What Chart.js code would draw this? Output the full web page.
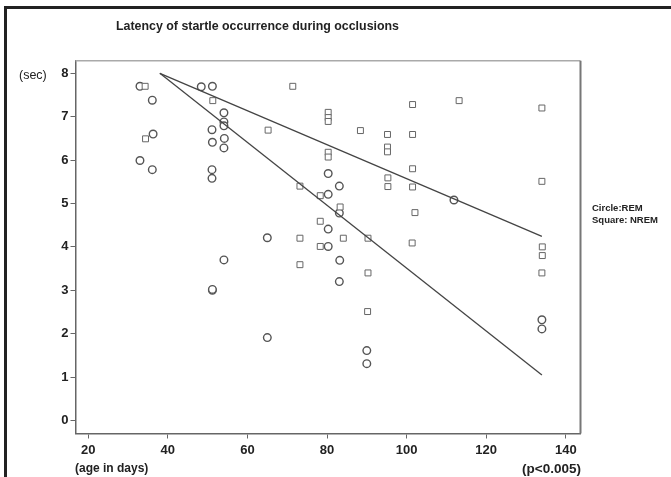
<!DOCTYPE html>
<html>
<head>
<meta charset="utf-8">
<script src="https://cdn.jsdelivr.net/npm/chart.js@4/dist/chart.umd.min.js"></script>
<style>
  body { margin: 0; background: #fff; }
  #wrap { width: 671px; height: 477px; }
</style>
</head>
<body>
<div id="wrap"><canvas id="grafico" width="671" height="477"></canvas></div>
<script>
// REM (circles): age in days, latency in sec
const remEdad = [33, 36.1, 48.4, 51.2, 54.1, 54.1, 54.1, 51.1, 54.2, 51.2, 54.1, 36.3, 33, 36.1, 51.1, 51.1,
  65, 54.1, 51.2, 51.2, 65, 80.3, 83.1, 111.9, 80.3, 83.1, 80.3, 80.3, 83.2, 83.1, 90, 90, 134, 134];
const remLatencia = [7.7, 7.38, 7.69, 7.7, 7.09, 6.88, 6.79, 6.7, 6.5, 6.41, 6.28, 6.6, 5.99, 5.78, 5.78, 5.58,
  4.21, 3.7, 3.0, 3.02, 1.91, 5.69, 5.4, 5.08, 5.21, 4.78, 4.41, 4.01, 3.69, 3.2, 1.61, 1.31, 2.32, 2.11];

// NREM (squares)
const nremEdad = [34.3, 51.3, 34.4, 65.2, 71.4, 101.5, 113.2, 80.3, 80.3, 80.3, 88.4, 95.2, 101.5, 95.2, 95.2,
  80.3, 80.3, 101.5, 73.2, 95.3, 95.3, 101.5, 78.3, 83.3, 102.1, 78.3, 73.2, 84.1, 90.3, 101.4, 78.3, 73.2,
  90.3, 90.2, 134, 134, 134.1, 134.1, 134];
const nremLatencia = [7.7, 7.37, 6.49, 6.69, 7.7, 7.28, 7.37, 7.1, 6.98, 6.89, 6.68, 6.59, 6.59, 6.3, 6.19,
  6.18, 6.07, 5.8, 5.4, 5.59, 5.39, 5.38, 5.18, 4.92, 4.79, 4.59, 4.2, 4.2, 4.2, 4.09, 4.01, 3.59,
  3.4, 2.51, 7.2, 5.51, 4.0, 3.8, 3.4];

// fitted lines
const lineaEdad = [38, 134];
const lineaSuave = [8.0, 4.24];
const lineaFuerte = [8.0, 1.05];

const xTicks = [20, 40, 60, 80, 100, 120, 140];
const yTicks = [0, 1, 2, 3, 4, 5, 6, 7, 8];

const titulo = 'Latency of startle occurrence during occlusions';
const ejeY = '(sec)';
const ejeX = '(age in days)';
const valorP = '(p<0.005)';
const leyenda = ['Circle:REM', 'Square: NREM'];

function puntos(xs, ys) {
  return xs.map((x, i) => ({ x: x, y: ys[i] }));
}

const fuente = "'Liberation Sans', Arial, sans-serif";

const textos = {
  id: 'textos',
  beforeDraw(chart) {
    const ctx = chart.ctx;
    ctx.save();
    ctx.fillStyle = '#fff';
    ctx.fillRect(0, 0, chart.width, chart.height);
    // outer frame
    ctx.fillStyle = '#222';
    ctx.fillRect(4, 6, chart.width - 4, 3);
    ctx.fillRect(4, 6, 3, chart.height - 6);
    ctx.restore();
  },
  afterDraw(chart) {
    const ctx = chart.ctx;
    const a = chart.chartArea;
    ctx.save();
    // top and right edges of plot box
    ctx.strokeStyle = '#aaa';
    ctx.lineWidth = 1.5;
    ctx.beginPath();
    ctx.moveTo(a.left, a.top);
    ctx.lineTo(a.right, a.top);
    ctx.stroke();
    ctx.strokeStyle = '#777';
    ctx.lineWidth = 2;
    ctx.beginPath();
    ctx.moveTo(a.right, a.top);
    ctx.lineTo(a.right, a.bottom);
    ctx.stroke();

    ctx.fillStyle = '#222';
    ctx.textBaseline = 'middle';
    ctx.textAlign = 'left';
    ctx.font = 'bold 12.4px ' + fuente;
    ctx.fillText(titulo, 116, 27);
    ctx.font = '12.5px ' + fuente;
    ctx.fillText(ejeY, 19, 76);
    ctx.font = 'bold 12px ' + fuente;
    ctx.fillText(ejeX, 75, 469);
    ctx.textAlign = 'right';
    ctx.font = 'bold 13.5px ' + fuente;
    ctx.fillText(valorP, 581, 469);
    ctx.textAlign = 'left';
    ctx.font = 'bold 9.5px ' + fuente;
    ctx.fillText(leyenda[0], 592, 208);
    ctx.fillText(leyenda[1], 592, 220);
    ctx.restore();
  }
};

const ctx = document.getElementById('grafico');

new Chart(ctx, {
  type: 'scatter',
  data: {
    datasets: [{
      label: 'fit 1',
      type: 'line',
      data: puntos(lineaEdad, lineaSuave),
      borderColor: '#444',
      borderWidth: 1.3,
      pointRadius: 0,
      fill: false
    }, {
      label: 'fit 2',
      type: 'line',
      data: puntos(lineaEdad, lineaFuerte),
      borderColor: '#444',
      borderWidth: 1.3,
      pointRadius: 0,
      fill: false
    }, {
      label: 'NREM',
      data: puntos(nremEdad, nremLatencia),
      pointStyle: 'rect',
      pointRadius: 4.2,
      borderWidth: 1,
      borderColor: '#666',
      backgroundColor: '#fff'
    }, {
      label: 'REM',
      data: puntos(remEdad, remLatencia),
      pointStyle: 'circle',
      pointRadius: 3.8,
      borderWidth: 1.4,
      borderColor: '#555',
      backgroundColor: '#fff'
    }]
  },
  options: {
    responsive: false,
    animation: false,
    layout: { padding: { left: 0, top: 60.7, right: 90.5, bottom: 0 } },
    plugins: {
      legend: { display: false },
      tooltip: { enabled: false }
    },
    scales: {
      x: {
        type: 'linear',
        min: 16.8,
        max: 143.7,
        afterBuildTicks: (axis) => { axis.ticks = xTicks.map(v => ({ value: v })); },
        afterFit: (scale) => { scale.height = 43.5; },
        grid: { drawOnChartArea: false, tickLength: 5, color: '#666' },
        border: { color: '#666', width: 1.5 },
        ticks: {
          font: { family: fuente, size: 13, weight: 'bold' },
          color: '#222',
          padding: 4,
          maxRotation: 0
        }
      },
      y: {
        type: 'linear',
        min: -0.3,
        max: 8.29,
        afterBuildTicks: (axis) => { axis.ticks = yTicks.map(v => ({ value: v })); },
        afterFit: (scale) => { scale.width = 75.5; },
        grid: { drawOnChartArea: false, tickLength: 5, color: '#666' },
        border: { color: '#666', width: 1.5 },
        ticks: {
          font: { family: fuente, size: 13, weight: 'bold' },
          color: '#222',
          padding: 2
        }
      }
    }
  },
  plugins: [textos]
});
</script>
</body>
</html>
